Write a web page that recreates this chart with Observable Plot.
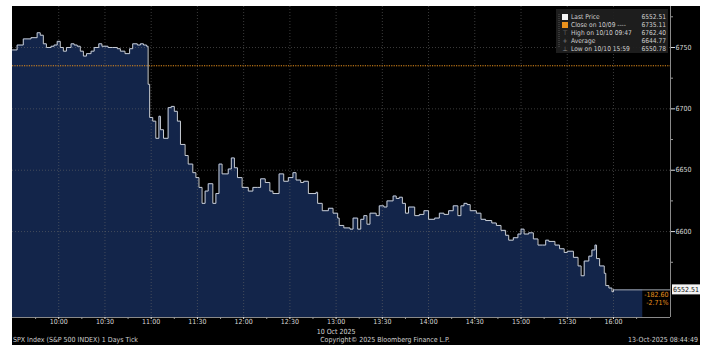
<!DOCTYPE html>
<html><head><meta charset="utf-8">
<script src="https://cdn.jsdelivr.net/npm/d3@7"></script>
<script src="https://cdn.jsdelivr.net/npm/@observablehq/plot@0.6"></script>
<style>
html,body{margin:0;padding:0;background:#fff;}
#chart{width:715px;height:356px;position:relative;}
</style></head><body><div id="chart"></div>
<script>
// ---- data ----
const times = ["09:30","09:33","09:37","09:42","09:46","09:48","09:50","09:52","09:55","09:57","09:59",
"10:01","10:03","10:05","10:08","10:10","10:12","10:14","10:16","10:18","10:21","10:23","10:26","10:28",
"10:32","10:35","10:38","10:40","10:43","10:46","10:48","10:51","10:53","10:55","10:57","10:58","10:59",
"11:01","11:03","11:05","11:06","11:08","11:11","11:13","11:15","11:17","11:19","11:22","11:24","11:27","11:29",
"11:31","11:33","11:35","11:37","11:40","11:42","11:44","11:46","11:50","11:52","11:54","11:56","11:59",
"12:03","12:06","12:09","12:11","12:14","12:17","12:19","12:23","12:26","12:29","12:32","12:34","12:37","12:39",
"12:42","12:47","12:48","12:51","12:55","12:58","13:01","13:02","13:05","13:09","13:11","13:14","13:16","13:18",
"13:20","13:22","13:26","13:28","13:31","13:33","13:37","13:39","13:41","13:43","13:45","13:47","13:51","13:54",
"13:57","14:00","14:04","14:07","14:10","14:13","14:16","14:19","14:21","14:23","14:25","14:27","14:31","14:34",
"14:37","14:41","14:44","14:47","14:50","14:52","14:55","14:58","15:00","15:02","15:05","15:08","15:11","15:14",
"15:16","15:18","15:22","15:25","15:28","15:30","15:34","15:37","15:39","15:41","15:44","15:46","15:48","15:49",
"15:51","15:54","15:55","15:57","15:59","16:00"];
const prices = [6748,6752,6757,6758,6762,6760,6753,6750,6751,6752,6755,
6750,6747,6750,6753,6752,6751,6747,6743,6745,6747,6750,6753,6751,
6750,6750,6749,6747,6745,6749,6753,6752,6753,6752,6751,6720,6693,
6690,6676,6694,6683,6676,6701,6702,6698,6690,6671,6662,6655,6648,6644,
6636,6623,6633,6639,6623,6631,6655,6647,6651,6660,6652,6644,6636,
6633,6636,6636,6643,6640,6633,6631,6647,6641,6644,6648,6642,6640,6641,
6631,6632,6623,6617,6619,6615,6611,6605,6603,6602,6611,6602,6610,6613,
6606,6615,6613,6621,6620,6625,6629,6627,6628,6623,6615,6620,6613,6614,
6617,6610,6611,6615,6614,6617,6621,6613,6621,6623,6622,6617,6615,6610,
6609,6607,6605,6601,6597,6593,6595,6598,6602,6598,6599,6594,6589,6589,
6593,6592,6589,6586,6583,6584,6579,6572,6564,6576,6580,6585,6589,6578,
6572,6566,6556,6554,6551,6552.51];
const xTickLabels = ["10:00","10:30","11:00","11:30","12:00","12:30","13:00","13:30","14:00","14:30","15:00","15:30","16:00"];
const xMinorTicks = ["09:45","10:15","10:45","11:15","11:45","12:15","12:45","13:15","13:45","14:15","14:45","15:15","15:45","16:15"];
const yTicks = [6600, 6650, 6700, 6750];
const yMinorTicks = [6575, 6625, 6675, 6725, 6775];
const prevClose = 6735.11;
const lastPrice = 6552.51;
const legendLabels = ["Last Price", "Close on 10/09 ----", "High on 10/10 09:47", "Average", "Low on 10/10 15:59"];
const legendValues = ["6552.51", "6735.11", "6762.40", "6644.77", "6550.78"];
const dateLabel = "10 Oct 2025";
const footerLeft = "SPX Index (S&P 500 INDEX) 1 Days Tick";
const footerMid = "Copyright\u00A9 2025 Bloomberg Finance L.P.";
const footerRight = "13-Oct-2025 08:44:49";

// ---- build ----
const day = "2025-10-10";
const T = s => new Date(`${day}T${s}:00Z`);
const data = times.map((t, i) => ({t: T(t), p: prices[i]}));
const xStart = "09:30", xEnd = "16:37", fillEnd = "16:19";
const areaData = [...data, {t: T(fillEnd), p: lastPrice}];
const yMin = 6530, yMax = 6783.4;
const change = lastPrice - prevClose;
const pct = change / prevClose * 100;
const orange = "#e8901c";
const font = "'Liberation Sans Narrow','DejaVu Sans Condensed','Liberation Sans',sans-serif";

const plot = Plot.plot({
  width: 715, height: 356,
  marginLeft: 12, marginRight: 45, marginTop: 6, marginBottom: 39,
  style: {background: "transparent", color: "#d0d0d0", fontFamily: font, fontSize: "7px"},
  x: {type: "utc", domain: [T(xStart), T(xEnd)]},
  y: {domain: [yMin, yMax]},
  marks: [
    Plot.areaY(areaData, {x: "t", y1: yMin, y2: "p", fill: "#13254a", curve: "step-after"}),
    Plot.ruleX(xTickLabels.map(T), {stroke: "#6a6a6a", strokeOpacity: 0.7, strokeDasharray: "1,2", strokeWidth: 0.8}),
    Plot.ruleY(yTicks, {stroke: "#6a6a6a", strokeOpacity: 0.7, strokeDasharray: "1,2", strokeWidth: 0.8}),
    Plot.ruleY([prevClose], {stroke: orange, strokeDasharray: "1.2,1.2", strokeWidth: 1}),
    Plot.ruleY([lastPrice], {x1: T("16:00"), x2: T(xEnd), stroke: "#a0a6ae", strokeWidth: 1}),
    Plot.line(data, {x: "t", y: "p", stroke: "#c9ced6", strokeWidth: 1, curve: "step-after"}),
    Plot.ruleX([T(xEnd)], {stroke: "#8a8a8a"}),
    Plot.ruleY([yMin], {stroke: "#8a8a8a"}),
    Plot.axisY(yTicks, {anchor: "right", tickSize: 4, tickPadding: 1, stroke: "#ddd", fill: "#d8d8d8", tickFormat: d => String(d), label: null}),
    Plot.axisY(yMinorTicks, {anchor: "right", tickSize: 2, text: null, stroke: "#999", label: null}),
    Plot.axisX(xTickLabels.map(T), {anchor: "bottom", tickSize: 2, tickPadding: 0, tickFormat: d3.utcFormat("%H:%M"), fill: "#d8d8d8", stroke: "#ddd", label: null}),
    Plot.axisX(xMinorTicks.map(T), {anchor: "bottom", tickSize: 2, text: null, stroke: "#999", label: null}),
    Plot.text([dateLabel], {x: T("13:00"), y: yMin, dy: 14, text: d => d, fill: "#d8d8d8"}),
    Plot.text([change.toFixed(2)], {x: T(xEnd), y: lastPrice, dx: -2, dy: 4.5, textAnchor: "end", text: d => d, fill: orange}),
    Plot.text([pct.toFixed(2) + "%"], {x: T(xEnd), y: lastPrice, dx: -2, dy: 12.5, textAnchor: "end", text: d => d, fill: orange})
  ]
});
document.getElementById("chart").appendChild(plot);

const svg = d3.select(plot);
// black panel behind everything
svg.insert("rect", ":first-child").attr("x", 12).attr("y", 6).attr("width", 688).attr("height", 339).attr("fill", "#000");

// last price box on right axis
const ys = plot.scale("y");
const yl = ys.apply(lastPrice);
svg.append("rect").attr("x", 672).attr("y", yl - 5).attr("width", 28).attr("height", 10).attr("fill", "#f4f4f4");
svg.append("text").attr("x", 686).attr("y", yl + 2.5).attr("text-anchor", "middle").attr("fill", "#111")
  .attr("font-size", 7).attr("font-family", font).text(lastPrice.toFixed(2));

// legend
const lg = svg.append("g").attr("font-family", font).attr("font-size", 6.6).attr("text-anchor", "start");
lg.append("rect").attr("x", 556).attr("y", 9).attr("width", 112).attr("height", 44).attr("fill", "#1f1f1f").attr("fill-opacity", 0.92);
lg.append("line").attr("x1", 559).attr("x2", 559).attr("y1", 14).attr("y2", 48).attr("stroke", "#555").attr("stroke-dasharray", "1,1");
const rowY = [17, 25, 33, 41, 48.5];
const icons = [null, null, "\u22A4", "+", "\u22A5"];
legendLabels.forEach((lab, i) => {
  const y = rowY[i];
  if (i === 0) lg.append("rect").attr("x", 562).attr("y", y - 3).attr("width", 6).attr("height", 6).attr("fill", "#f4f4f4");
  else if (i === 1) lg.append("rect").attr("x", 562).attr("y", y - 3).attr("width", 6).attr("height", 6).attr("fill", orange);
  else lg.append("text").attr("x", 565).attr("y", y + 2.3).attr("text-anchor", "middle").attr("fill", "#8a8a8a").text(icons[i]);
  lg.append("text").attr("x", 571).attr("y", y + 2.3).attr("text-anchor", "start").attr("fill", "#d0d0d0").text(lab);
  lg.append("text").attr("x", 666).attr("y", y + 2.3).attr("text-anchor", "end").attr("fill", "#d0d0d0").text(legendValues[i]);
});

// footer
const ft = svg.append("g").attr("font-family", font).attr("font-size", 7).attr("fill", "#d0d0d0");
ft.append("text").attr("x", 13).attr("y", 341.5).attr("text-anchor", "start").text(footerLeft);
ft.append("text").attr("x", 385).attr("y", 341.5).attr("text-anchor", "middle").text(footerMid);
ft.append("text").attr("x", 698).attr("y", 341.5).attr("text-anchor", "end").text(footerRight);
</script></body></html>
